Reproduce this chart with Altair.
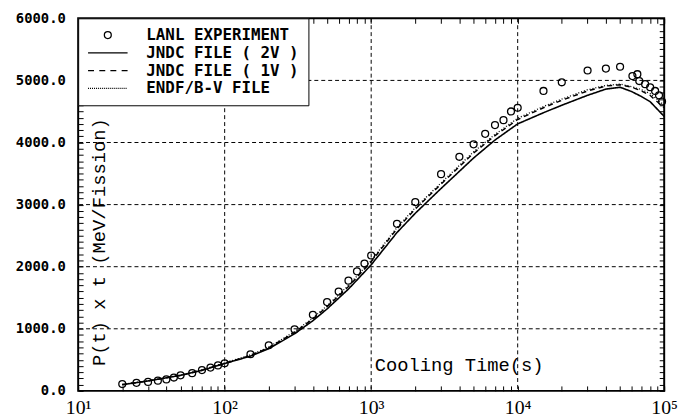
import altair as alt
import pandas as pd

# ---- data ----
exp_t = [20, 25, 30, 35, 40, 45, 50, 60, 70, 80, 90, 100, 150, 200, 300, 400, 500, 600, 700, 800,
         900, 1000, 1500, 2000, 3000, 4000, 5000, 6000, 7000, 8000, 9000, 10000, 15000, 20000,
         30000, 40000, 50000, 60700, 65600, 67600, 74100, 80200, 86700, 92200, 96700]
exp_v = [110, 130, 145, 165, 185, 215, 250, 285, 335, 375, 410, 445, 590, 735, 990, 1225, 1430, 1600,
         1775, 1925, 2050, 2180, 2690, 3040, 3490, 3770, 3970, 4140, 4280, 4360, 4500, 4560, 4830,
         4970, 5160, 5190, 5220, 5070, 5100, 4990, 4940, 4890, 4830, 4760, 4660]

curve_t = [20, 30, 50, 70, 100, 150, 200, 300, 400, 500, 700, 1000, 1500, 2000, 3000, 5000, 7000,
           10000, 15000, 20000, 30000, 40000, 50000, 60000, 70000, 80000, 100000]
jndc_2v = [100, 160, 250, 330, 440, 560, 680, 920, 1130, 1320, 1640, 2030, 2550, 2860, 3260, 3750,
           4040, 4300, 4480, 4600, 4760, 4860, 4890, 4820, 4740, 4660, 4420]
jndc_1v = [100, 160, 250, 335, 445, 570, 695, 940, 1160, 1355, 1680, 2080, 2610, 2930, 3330, 3830,
           4110, 4370, 4560, 4680, 4830, 4910, 4930, 4890, 4830, 4760, 4560]
endf_bv = [105, 165, 255, 340, 450, 580, 705, 955, 1175, 1370, 1700, 2100, 2630, 2950, 3350, 3850,
           4130, 4390, 4580, 4700, 4850, 4920, 4940, 4900, 4850, 4790, 4600]

series_names = ["LANL EXPERIMENT", "JNDC FILE ( 2V )", "JNDC FILE ( 1V )", "ENDF/B-V FILE"]

x_major = [10, 100, 1000, 10000, 100000]
x_minor = [m * 10 ** e for e in range(1, 5) for m in range(2, 10)]
x_ticks = sorted(x_major + x_minor)
y_ticks = list(range(0, 6001, 100))
grid_x = [100, 1000, 10000]
grid_y = [1000, 2000, 3000, 4000, 5000]

# ---- legend / marker symbol paths (unit box -1..1, scaled by sqrt(size)/2) ----
R = 0.175
circle_path = f"M{-R},0A{R},{R} 0 1,0 {R},0A{R},{R} 0 1,0 {-R},0Z"
solid_path = "M-1,0H1"
dashed_path = "M-1,0H-0.7M-0.43,0H-0.13M0.13,0H0.43M0.7,0H1"
dotted_path = "".join(f"M{-1 + k * 0.1:.2f},0H{-1 + k * 0.1 + 0.05:.2f}" for k in range(20))

TICK = "black"

# ---- tables ----
exp_df = pd.DataFrame({"t": exp_t, "v": exp_v, "series": series_names[0]})
rows = []
for name, vals in zip(series_names[1:], [jndc_2v, jndc_1v, endf_bv]):
    for i, (t, v) in enumerate(zip(curve_t, vals)):
        rows.append({"t": t, "v": v, "series": name, "i": i})
curve_df = pd.DataFrame(rows)
gx_df = pd.DataFrame({"t": grid_x})
gy_df = pd.DataFrame({"v": grid_y})

xscale = alt.Scale(type="log", domain=[10, 100000], nice=False)
yscale = alt.Scale(domain=[0, 6000], nice=False, zero=False)

x_label_expr = ("datum.value == 10 ? '10\u00b9' : datum.value == 100 ? '10\u00b2' : "
                "datum.value == 1000 ? '10\u00b3' : datum.value == 10000 ? '10\u2074' : "
                "datum.value == 100000 ? '10\u2075' : ''")
y_label_expr = "datum.value % 1000 == 0 ? format(datum.value, '.1f') : ''"

vgrid = alt.Chart(gx_df).mark_rule(color="black", strokeDash=[4, 3], strokeWidth=1).encode(
    x=alt.X("t:Q", scale=xscale,
            axis=alt.Axis(orient="top", values=x_ticks, labels=False, tickSize=5, offset=-5,
                          domain=False, grid=False, title=None, tickColor=TICK, tickWidth=1))
)

hgrid = alt.Chart(gy_df).mark_rule(color="black", strokeDash=[4, 3], strokeWidth=1).encode(
    y=alt.Y("v:Q", scale=yscale,
            axis=alt.Axis(orient="right", values=y_ticks, labels=False, tickSize=5, offset=-5,
                          domain=False, grid=False, title=None, tickColor=TICK, tickWidth=1))
)

lines = alt.Chart(curve_df).mark_line(color="black").encode(
    x=alt.X("t:Q", scale=xscale,
            axis=alt.Axis(orient="bottom", values=x_ticks, labelExpr=x_label_expr, tickSize=5,
                          offset=-5, domain=False, grid=False, labelFlush=False, labelOverlap=False,
                          labelFont="Liberation Serif", labelFontSize=20, labelColor="black",
                          labelPadding=7, tickColor=TICK, tickWidth=1,
                          title="Cooling Time(s)", titleFont="Liberation Mono", titleFontSize=19,
                          titleFontWeight="normal", titleColor="black", titleX=385, titleY=-22,
                          titleAlign="center", titleBaseline="middle")),
    y=alt.Y("v:Q", scale=yscale,
            axis=alt.Axis(orient="left", values=y_ticks, labelExpr=y_label_expr, tickSize=5,
                          offset=-5, domain=False, grid=False, labelOverlap=False, labelFlush=False,
                          labelFont="DejaVu Sans Mono", labelFontSize=14, labelFontWeight="bold",
                          labelColor="black", labelPadding=13, tickColor=TICK, tickWidth=1,
                          title="P(t) x t  (MeV/Fission)", titleFont="Liberation Mono",
                          titleFontSize=19, titleFontWeight="normal", titleColor="black",
                          titleX=16, titleY=226, titleAngle=270, titleAlign="center",
                          titleBaseline="middle")),
    strokeDash=alt.StrokeDash(
        "series:N",
        scale=alt.Scale(domain=series_names[1:], range=[[1, 0], [5, 4], [1, 2]]),
        legend=None,
    ),
    strokeWidth=alt.StrokeWidth(
        "series:N",
        scale=alt.Scale(domain=series_names[1:], range=[1.6, 1.3, 1.2]),
        legend=None,
    ),
    order="i:Q",
)

points = alt.Chart(exp_df).mark_point(filled=False, color="black", size=1600,
                                      strokeWidth=1.3, opacity=1).encode(
    x=alt.X("t:Q", scale=xscale, axis=None),
    y=alt.Y("v:Q", scale=yscale, axis=None),
    shape=alt.Shape(
        "series:N",
        scale=alt.Scale(domain=series_names,
                        range=[circle_path, solid_path, dashed_path, dotted_path]),
        legend=alt.Legend(
            title=None, orient="none", legendX=0, legendY=0,
            strokeColor="black", fillColor="white", padding=9, rowPadding=2,
            symbolSize=1600, symbolStrokeWidth=1.3, symbolStrokeColor="black",
            symbolFillColor="transparent", symbolOpacity=1,
            clipHeight=16, labelOffset=18,
            labelFont="DejaVu Sans Mono", labelFontSize=16, labelFontWeight="bold",
            labelColor="black", labelLimit=400,
        ),
    ),
)

chart = alt.layer(vgrid, hgrid, lines, points).resolve_axis(
    x="independent", y="independent"
).properties(
    width=593, height=377,
    autosize=alt.AutoSizeParams(type="none"),
    padding={"left": 71, "top": 8, "right": 16, "bottom": 25},
    background="white",
).configure_view(stroke="black", strokeWidth=2)

chart.save("out.html", embed_options={"renderer": "svg", "actions": False})
